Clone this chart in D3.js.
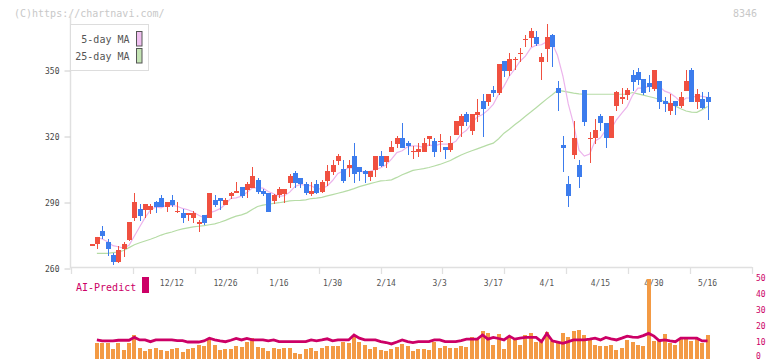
<!DOCTYPE html>
<html><head><meta charset="utf-8">
<script src="https://cdn.jsdelivr.net/npm/d3@7"></script>
<style>body{margin:0;background:#fff}svg{display:block}text{font-family:"DejaVu Sans Mono",monospace}</style>
</head><body><svg id="c" width="772" height="361"></svg>
<script>
const dates = ["11/21","11/22","11/25","11/26","11/27","11/28","11/29","12/2","12/3","12/4","12/5","12/6","12/9","12/10","12/11","12/12","12/13","12/16","12/17","12/18","12/19","12/20","12/23","12/24","12/25","12/26","12/27","12/30","1/6","1/7","1/8","1/9","1/10","1/14","1/15","1/16","1/17","1/20","1/21","1/22","1/23","1/24","1/27","1/28","1/29","1/30","1/31","2/3","2/4","2/5","2/6","2/7","2/10","2/12","2/13","2/14","2/17","2/18","2/19","2/20","2/21","2/25","2/26","2/27","2/28","3/3","3/4","3/5","3/6","3/7","3/10","3/11","3/12","3/13","3/14","3/17","3/18","3/19","3/21","3/24","3/25","3/26","3/27","3/28","3/31","4/1","4/2","4/3","4/4","4/7","4/8","4/9","4/10","4/11","4/14","4/15","4/16","4/17","4/18","4/21","4/22","4/23","4/24","4/25","4/28","4/30","5/1","5/2","5/7","5/8","5/9","5/12","5/13","5/14","5/15","5/16"];
const openP = [270.9,271.0,277.0,271.9,266.1,263.1,269.0,272.9,282.9,287.0,286.6,286.6,290.2,292.0,288.1,291.1,285.8,285.1,284.8,283.1,280.1,284.2,283.1,291.1,292.0,288.9,292.9,295.0,297.0,295.7,296.7,300.2,295.2,294.3,290.7,293.4,293.7,298.7,303.4,301.0,298.2,293.8,298.4,294.6,299.8,304.0,309.0,305.1,305.8,311.1,306.1,304.3,301.7,304.8,311.1,308.2,313.1,316.6,319.5,317.2,313.3,313.1,313.1,319.0,317.9,317.8,315.2,313.9,320.7,324.8,330.2,322.6,329.9,336.1,335.8,341.1,339.9,354.3,349.8,355.1,357.8,364.2,364.9,365.4,353.9,359.8,366.1,341.9,316.3,298.4,311.6,307.0,341.1,319.2,319.2,329.3,326.0,319.2,333.9,336.9,338.9,348.0,349.2,346.1,344.2,341.5,345.2,336.1,331.8,336.1,334.0,340.7,350.2,335.8,337.0,337.8];
const highP = [271.3,274.5,279.3,273.3,267.2,270.1,272.0,281.3,294.5,289.3,289.5,289.3,290.5,293.3,290.3,293.4,290.1,286.9,285.4,286.0,282.0,284.4,294.3,293.4,292.0,292.2,295.0,299.3,297.2,299.3,306.1,301.3,296.0,294.4,294.0,297.2,296.3,302.8,304.5,301.2,299.5,299.1,300.2,300.2,307.0,309.3,312.0,309.3,309.3,316.9,306.3,305.0,304.5,311.3,313.4,311.3,317.9,320.2,326.0,318.0,315.7,316.9,319.5,320.4,319.3,321.1,315.4,320.2,327.1,330.2,331.3,330.4,337.0,339.3,339.5,342.9,353.0,354.5,358.1,356.1,360.2,366.1,369.3,367.9,358.1,371.1,366.8,345.2,320.4,302.0,327.0,309.3,341.3,321.9,328.0,330.2,326.2,329.4,340.5,342.2,342.2,350.2,351.0,346.3,348.0,350.3,345.4,338.0,339.2,336.3,340.4,350.2,351.3,341.4,340.4,340.1];
const lowP = [270.7,268.9,273.2,265.8,261.6,262.5,265.1,272.7,281.6,281.7,283.1,284.8,285.1,287.8,285.8,288.1,285.1,280.8,281.7,280.8,276.8,279.8,283.0,288.1,286.6,288.7,291.6,294.2,291.9,291.9,296.5,293.7,293.1,285.7,289.1,291.9,289.9,296.7,296.7,296.7,293.4,293.1,293.7,294.4,297.6,302.5,307.0,298.7,301.7,299.0,299.8,299.0,299.8,301.7,306.3,305.8,313.0,314.9,314.7,311.6,309.8,310.8,313.0,315.8,310.8,313.1,309.8,313.1,320.6,319.9,324.8,320.7,326.7,320.0,333.8,337.8,339.0,346.9,347.6,350.2,354.0,360.8,360.8,361.1,345.7,353.9,351.7,331.7,304.0,288.1,309.9,296.7,324.9,308.1,316.6,322.5,314.9,319.1,331.6,334.8,336.6,340.7,343.4,338.9,340.4,340.8,332.5,331.0,329.8,329.8,332.8,340.5,335.6,332.5,332.5,327.5];
const closeP = [271.1,274.2,274.8,268.9,263.1,268.4,271.1,281.1,290.2,284.0,289.3,288.4,288.1,288.1,290.1,289.0,286.2,283.1,285.2,285.1,281.3,280.8,294.2,288.9,290.8,291.1,294.5,295.2,293.1,298.4,302.0,294.9,294.0,285.8,293.4,296.1,296.1,302.0,298.7,298.2,294.2,295.2,294.2,299.5,304.3,307.0,311.1,299.8,307.0,302.9,304.0,302.9,304.3,311.1,306.7,311.1,315.2,319.5,314.9,315.8,313.5,314.3,317.0,320.2,313.1,318.0,314.0,317.0,327.0,329.3,326.7,330.2,331.1,332.6,339.3,339.9,352.9,349.8,355.2,355.3,358.0,364.4,367.9,361.9,356.1,365.4,360.8,339.9,314.9,293.1,319.3,301.7,326.7,319.4,323.0,326.0,319.2,329.3,340.3,338.1,341.1,344.9,345.8,339.9,342.4,350.2,335.8,334.9,335.1,334.0,338.1,345.2,335.8,339.3,332.8,335.8];
const ma5 = [null,274.2,273.4,272.2,270.4,269.9,269.3,270.5,274.8,279.0,283.1,286.6,288.0,287.6,288.8,288.7,288.3,287.3,286.7,285.7,284.2,283.1,285.3,286.1,287.2,289.2,291.9,292.1,292.9,294.5,296.6,296.7,296.5,295.0,294.0,292.8,293.1,294.7,297.3,298.2,297.8,297.7,296.1,296.3,297.5,300.0,303.2,304.3,305.8,305.6,305.0,303.3,304.2,305.0,305.8,307.2,309.7,312.7,313.5,315.3,315.8,315.6,315.1,316.2,315.6,316.5,316.5,316.5,317.8,321.1,322.8,326.0,328.9,330.0,332.0,334.6,339.2,342.9,347.4,350.6,354.2,356.5,360.2,361.5,361.7,363.1,362.4,356.8,347.4,334.8,325.6,313.8,311.1,312.0,318.0,319.4,322.9,323.4,327.6,330.6,333.6,338.7,342.0,342.0,342.8,344.6,342.8,340.6,339.7,338.0,335.6,337.5,337.6,338.5,338.2,337.8];
const ma25 = [null,266.9,266.9,266.9,267.2,267.5,268.2,269.5,270.8,271.7,272.5,273.3,274.2,275.2,276.0,276.6,277.4,278.0,278.5,278.9,279.2,279.5,279.9,280.3,281.0,281.9,282.9,283.8,284.4,285.3,286.8,288.2,288.8,289.2,289.6,289.9,290.3,290.7,290.9,291.0,291.2,291.8,292.0,292.3,293.0,293.6,294.2,294.8,295.5,296.3,297.2,297.9,298.6,299.2,299.8,300.0,300.3,301.4,302.6,303.6,304.6,305.0,305.4,305.9,306.6,307.3,308.2,309.1,310.4,311.6,312.6,313.5,314.4,315.3,316.2,317.0,319.0,321.5,323.3,325.3,327.2,329.2,331.1,333.1,335.1,337.1,339.0,341.0,340.6,340.2,339.7,339.4,339.2,339.2,339.2,339.2,339.2,339.2,339.2,339.2,339.2,340.0,339.4,338.8,338.2,337.6,336.8,335.9,335.0,333.8,332.6,331.6,331.1,331.0,332.2,333.6];
const aiBars = [null,9.9,9.5,9.5,5.9,9.5,5.3,9.9,14.7,6.8,4.9,5.7,6.8,5.3,4.9,5.9,6.8,4.3,5.9,6.8,8.4,8.0,13.0,8.4,5.3,5.9,5.7,7.8,7.4,10.5,12.6,7.0,6.4,4.9,6.4,5.9,6.4,6.4,3.7,2.8,5.7,6.4,4.9,6.4,7.8,7.8,7.8,10.5,9.9,13.6,10.5,8.4,5.7,7.4,5.3,4.9,5.9,7.0,9.1,7.8,4.9,5.9,5.9,5.3,10.5,6.8,7.8,6.8,6.8,7.8,7.0,13.6,12.6,17.4,16.2,8.4,15.3,5.9,14.0,12.1,8.4,14.7,16.2,10.5,10.5,16.8,11.1,10.5,16.2,13.6,17.4,17.8,14.7,12.1,8.4,8.0,8.0,8.4,5.3,6.8,11.6,10.5,8.4,7.8,49.5,10.9,12.1,15.3,9.5,8.4,12.1,13.0,10.9,12.6,9.9,14.7];
const aiLine = [null,11.6,11.0,11.0,11.0,11.4,11.4,11.4,13.2,11.6,11.6,10.5,11.6,11.6,11.6,11.6,11.2,11.2,10.3,10.3,10.3,11.0,12.7,11.6,11.0,10.5,11.4,12.5,11.6,12.5,11.6,11.6,11.6,11.0,11.6,10.5,10.5,10.5,10.5,10.5,10.5,11.6,11.0,11.6,12.3,11.0,11.6,11.6,11.6,14.7,12.7,11.6,11.6,11.6,10.5,10.0,9.1,10.3,11.6,10.5,9.9,10.5,10.5,10.5,11.6,11.6,10.5,10.5,10.5,11.2,12.1,12.1,12.1,14.7,12.1,13.2,12.5,11.6,14.0,12.1,12.7,13.2,13.2,13.2,10.5,15.7,11.1,10.3,9.5,10.5,11.6,11.6,11.6,12.1,12.7,11.6,13.2,12.3,11.6,12.7,14.0,13.4,13.2,14.3,15.7,14.0,11.1,11.6,11.0,10.5,12.7,12.7,12.7,12.7,11.0,11.0];
const xTickLabels = ["12/12","12/26","1/16","1/30","2/14","3/3","3/17","4/1","4/15","4/30","5/16"];
const yTicks = [260,290,320,350];
const aiTicks = [0,10,20,30,40,50];

const svg = d3.select("#c");
const x = d3.scaleLinear().domain([-3.83, 123.3]).range([71, 752]);
const y = d3.scaleLinear().domain([260, 350]).range([268.5, 70.5]);
const y2 = d3.scaleLinear().domain([0, 50]).range([358.5, 278.5]);
const RED = "#f05040", BLUE = "#3c7ced", GRID = "#e0e0e0";

svg.append("text").attr("x", 14).attr("y", 16.5).attr("font-size", 10).attr("fill", "#c8c8c8").text("(C)https://chartnavi.com/");
svg.append("text").attr("x", 757).attr("y", 16.5).attr("text-anchor", "end").attr("font-size", 10).attr("fill", "#c8c8c8").text("8346");

svg.append("line").attr("x1", 70.5).attr("x2", 70.5).attr("y1", 14).attr("y2", 268).attr("stroke", GRID).attr("stroke-width", 1.5);
svg.append("line").attr("x1", 70).attr("x2", 752).attr("y1", 267.5).attr("y2", 267.5).attr("stroke", GRID).attr("stroke-width", 1.5);
const gridTicks = d3.range(12).map(k => 71 + k * 61.9);
svg.selectAll(".xt").data(gridTicks).join("line").attr("class", "xt")
  .attr("x1", d => Math.round(d) + 0.5).attr("x2", d => Math.round(d) + 0.5).attr("y1", 267).attr("y2", 274)
  .attr("stroke", GRID).attr("stroke-width", 1.3);

const yAxis = d3.axisLeft(y).tickValues(yTicks).tickSize(6).tickPadding(5);
const gy = svg.append("g").attr("transform", "translate(70.5,0)").call(yAxis);
gy.select(".domain").remove();
gy.selectAll(".tick line").attr("stroke", "#ccc");
gy.selectAll(".tick text").attr("font-family", "DejaVu Sans Mono, monospace").attr("font-size", 8).attr("fill", "#444");

const idxOf = d => dates.indexOf(d);
svg.selectAll(".xl").data(xTickLabels).join("text").attr("class", "xl")
  .attr("x", d => x(idxOf(d))).attr("y", 286).attr("text-anchor", "middle")
  .attr("font-size", 8).attr("fill", "#555").text(d => d);

const lineGen = arr => d3.line().defined(d => d != null).x((d, i) => x(i)).y(d => y(d))(arr);
svg.append("path").attr("d", lineGen(ma25)).attr("fill", "none").attr("stroke", "#b6dca6").attr("stroke-width", 1.2);
svg.append("path").attr("d", lineGen(ma5)).attr("fill", "none").attr("stroke", "#ecb4ec").attr("stroke-width", 1.2);

const idx = d3.range(dates.length);
const cg = svg.append("g").attr("shape-rendering", "crispEdges");
cg.selectAll(".wick").data(idx).join("line").attr("class", "wick")
  .attr("x1", i => Math.round(x(i)) + 0.5).attr("x2", i => Math.round(x(i)) + 0.5)
  .attr("y1", i => y(highP[i])).attr("y2", i => y(lowP[i]))
  .attr("stroke", i => closeP[i] >= openP[i] ? RED : BLUE).attr("stroke-width", 1);
cg.selectAll(".body").data(idx).join("rect").attr("class", "body")
  .attr("x", i => Math.round(x(i)) - 2)
  .attr("width", 5)
  .attr("y", i => y(Math.max(openP[i], closeP[i])))
  .attr("height", i => Math.max(1.5, Math.abs(y(openP[i]) - y(closeP[i]))))
  .attr("fill", i => closeP[i] >= openP[i] ? RED : BLUE);

const lg = svg.append("g");
lg.append("rect").attr("x", 70.5).attr("y", 24.5).attr("width", 78).attr("height", 46).attr("fill", "#fff").attr("stroke", "#ddd");
lg.append("text").attr("x", 129.5).attr("y", 42.5).attr("text-anchor", "end").attr("font-size", 10).attr("fill", "#555").text("5-day MA");
lg.append("text").attr("x", 129.5).attr("y", 60).attr("text-anchor", "end").attr("font-size", 10).attr("fill", "#555").text("25-day MA");
lg.append("rect").attr("x", 136.5).attr("y", 31.5).attr("width", 5.5).attr("height", 14.5).attr("fill", "#f0c0f0").attr("stroke", "#555");
lg.append("rect").attr("x", 136.5).attr("y", 48.5).attr("width", 5.5).attr("height", 14.5).attr("fill", "#c4e4b4").attr("stroke", "#555");

svg.append("text").attr("x", 76).attr("y", 290.5).attr("font-size", 10).attr("fill", "#cc0066").text("AI-Predict");
svg.append("rect").attr("x", 142).attr("y", 277).attr("width", 7).attr("height", 16).attr("fill", "#cc0066");

const ag = svg.append("g").attr("shape-rendering", "crispEdges");
ag.selectAll(".ab").data(idx.filter(i => aiBars[i] != null)).join("rect").attr("class", "ab")
  .attr("x", i => Math.round(x(i)) - 2).attr("width", 4)
  .attr("y", i => y2(aiBars[i])).attr("height", i => y2(0) - y2(aiBars[i]))
  .attr("fill", "#f39a44");
svg.append("path").attr("d", d3.line().defined(d => d != null).x((d, i) => x(i)).y(d => y2(d))(aiLine))
  .attr("fill", "none").attr("stroke", "#cc0066").attr("stroke-width", 2.8);

svg.selectAll(".ay").data(aiTicks).join("text").attr("class", "ay")
  .attr("x", 756).attr("y", d => Math.min(y2(d) + 2.5, 358.5)).attr("font-size", 8).attr("fill", "#cc0066").text(d => d);
</script></body></html>
